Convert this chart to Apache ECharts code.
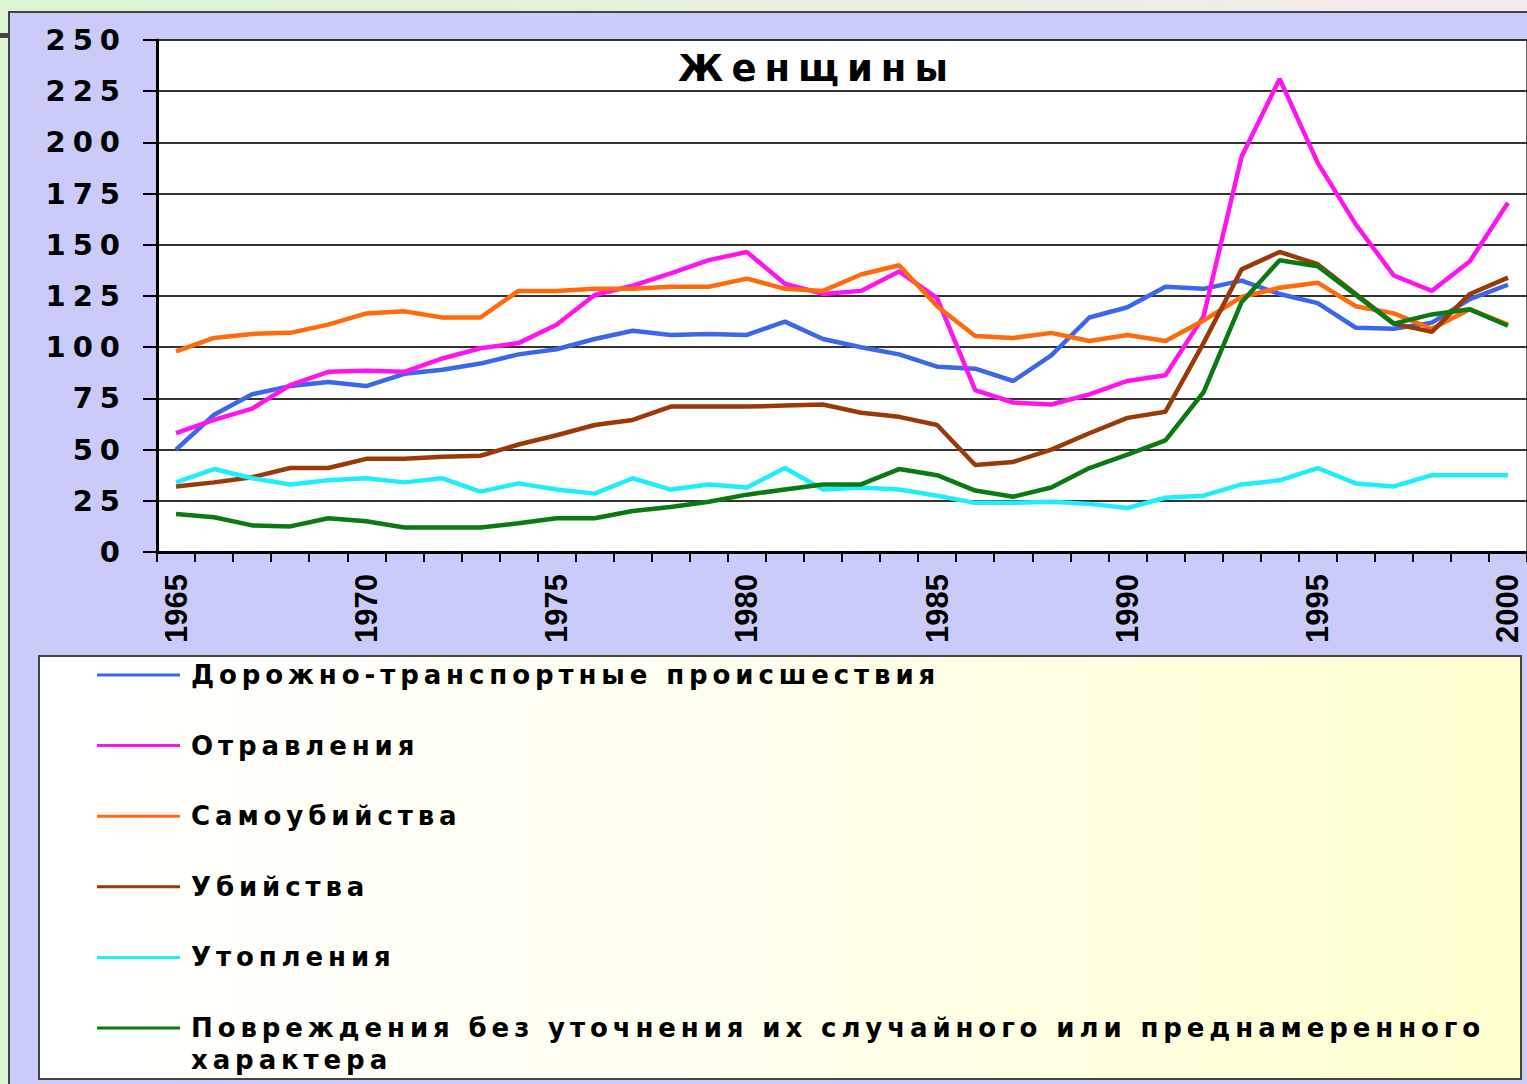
<!DOCTYPE html>
<html><head><meta charset="utf-8">
<script src="https://cdn.jsdelivr.net/npm/echarts@6/dist/echarts.min.js"></script>
<style>
html,body{margin:0;padding:0;width:1527px;height:1084px;overflow:hidden;}
body{background:linear-gradient(to right,#dcf4d3 0%,#e6f1de 50%,#f6eaf0 100%);position:relative;}
#panel{position:absolute;left:8px;top:11px;width:1519px;height:1073px;background:#cbcbf9;border-left:2px solid #444;border-top:2px solid #444;box-sizing:border-box;}
#bar{position:absolute;left:0;top:33px;width:9px;height:5px;background:#444;}
#legbox{position:absolute;left:38px;top:655px;width:1484px;height:425px;box-sizing:border-box;border:2px solid #444;background:linear-gradient(to right,#ffffff 0%,#fffff2 40%,#ffffd0 100%);}
#chart{position:absolute;left:0;top:0;width:1527px;height:1084px;}
#chart text[style*="29px"]{letter-spacing:7px;}
#chart text[style*="26px"]{letter-spacing:4.9px;}
#chart text[style*="37px"]{letter-spacing:8px;}
</style>
</head><body>
<div id="panel"></div><div id="bar"></div><div id="legbox"></div>
<div id="chart"></div>
<script>
const years = ['1965','1966','1967','1968','1969','1970','1971','1972','1973','1974','1975','1976','1977','1978','1979','1980','1981','1982','1983','1984','1985','1986','1987','1988','1989','1990','1991','1992','1993','1994','1995','1996','1997','1998','1999','2000'];
const titleText = 'Женщины';
const seriesNames = ['Дорожно-транспортные происшествия','Отравления','Самоубийства','Убийства','Утопления','Повреждения без уточнения их случайного или преднамеренного характера'];
const roadAccidents = [50,67,77,81,83,81,87,89,92,96.5,99,104,108,106,106.5,106,112.5,104,100,96.5,90.5,89.5,83.5,96,114.5,119.5,129.5,128.5,132.5,126,121.5,109.5,109,112,123.5,130.5];
const poisonings = [58,64.5,70,81.5,88,88.5,88,94.5,99.5,102,111,125.5,130,136,142.5,146.5,131,126,127.5,137,124,79,73,72,77,83.5,86.3,115,193,231,190,160,135,127.5,142,170.5];
const suicides = [98,104.5,106.5,107,111,116.5,117.5,114.5,114.5,127.5,127.5,128.5,128.5,129.5,129.5,133.5,128.5,127.5,135.5,140,120,105.5,104.5,107,103,106,103,113,124.5,129,131.5,120,116.5,109,118.5,111];
const homicides = [32,34,36.5,41,41,45.5,45.5,46.5,47,52.5,57,62,64.5,71,71,71,71.5,72,68,66,62,42.5,44,50,58,65.5,68.5,102,138,146.5,140.5,126,111.5,107.5,126,134];
const drownings = [34,40.5,36,33,35,36,34,36,29.5,33.5,30.5,28.5,36,30.5,33,31.5,41,30.5,31.5,30.5,27.5,24,24,24.5,23.5,21.5,26.5,27.5,33,35,41,33.5,32,37.5,37.5,37.5];
const undetermined = [18.5,17,13,12.5,16.5,15,12,12,12,14,16.5,16.5,20,22,24.5,28,30.5,33,33,40.5,37.5,30,27,31.5,41,47.5,54.5,78,122,142.5,139.5,125.5,111.5,116,118.5,110.5];
const yTicks = {min:0, max:250, interval:25};

const colors = ['#3b68ea','#ff14f0','#ff6a0a','#9a3a08','#1eeefc','#0b7a12'];
const allData = [roadAccidents,poisonings,suicides,homicides,drownings,undetermined];

const legendText = {fontFamily:'DejaVu Sans',fontWeight:'bold',fontSize:26,color:'#000',lineHeight:32,padding:[0,0,0,6]};
const chart = echarts.init(document.getElementById('chart'), null, {renderer:'svg'});
chart.setOption({
  backgroundColor:'transparent',
  animation:false,
  title:{text:titleText,left:812,top:45,textAlign:'center',
    textStyle:{fontFamily:'DejaVu Sans',fontWeight:'bold',fontSize:37,color:'#000'}},
  grid:{left:157,right:-4,top:40,bottom:532,show:true,backgroundColor:'#ffffff',borderColor:'#666',borderWidth:2,containLabel:false},
  legend:[
    {orient:'vertical',left:97,top:659,height:520,padding:0,icon:'rect',itemWidth:83,itemHeight:3,itemGap:38.6,
     textStyle:legendText,data:seriesNames.slice(0,5)},
    {orient:'vertical',left:97,top:980,height:200,padding:0,icon:'rect',itemWidth:83,itemHeight:3,
     formatter:n=>'\n'+n.replace(' характера','\nхарактера'),
     textStyle:legendText,data:seriesNames.slice(5)}
  ],
  xAxis:{type:'category',data:years,boundaryGap:true,
    axisLine:{lineStyle:{color:'#000',width:3}},
    axisTick:{show:true,interval:0,length:10,lineStyle:{color:'#000',width:2}},
    axisLabel:{interval:4,rotate:90,margin:22,fontFamily:'Liberation Sans',fontWeight:'bold',fontSize:31,color:'#000'},
    splitLine:{show:false}},
  yAxis:{type:'value',min:yTicks.min,max:yTicks.max,interval:yTicks.interval,
    axisLine:{show:true,lineStyle:{color:'#000',width:3}},
    axisTick:{show:true,length:14,lineStyle:{color:'#000',width:2}},
    axisLabel:{margin:30,fontFamily:'DejaVu Sans',fontWeight:'bold',fontSize:29,color:'#000'},
    splitLine:{lineStyle:{color:'#333',width:2}}},
  series: seriesNames.map((n,i)=>({name:n,type:'line',data:allData[i],symbol:'none',
    lineStyle:{width:4.5,color:colors[i]},itemStyle:{color:colors[i]}}))
});
</script>
</body></html>
